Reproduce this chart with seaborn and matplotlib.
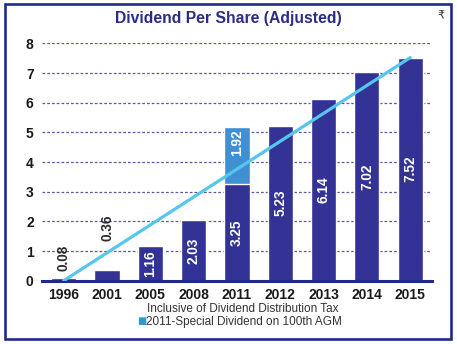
import matplotlib
matplotlib.use("Agg")
import matplotlib.pyplot as plt
import seaborn as sns
import pandas as pd
from matplotlib.patches import Rectangle

# ---- data ----
years = ["1996", "2001", "2005", "2008", "2011", "2012", "2013", "2014", "2015"]
dividend = [0.08, 0.36, 1.16, 2.03, 3.25, 5.23, 6.14, 7.02, 7.52]
special = [0, 0, 0, 0, 1.92, 0, 0, 0, 0]
trend_start = 0.0
trend_end = 7.52
y_ticks = [0, 1, 2, 3, 4, 5, 6, 7, 8]
title = "Dividend Per Share (Adjusted)"
note1 = "Inclusive of Dividend Distribution Tax"
note2 = "2011-Special Dividend on 100th AGM"

sns.set_style("white")
plt.rcParams["font.family"] = ["Liberation Sans", "DejaVu Sans"]

df = pd.DataFrame({"year": years, "dividend": dividend,
                   "total": [d + s for d, s in zip(dividend, special)]})

DARK = "#333395"
SPECIAL = "#3f8fd2"
LINE = "#56c6ef"
NAVY = "#1f2b85"

fig = plt.figure(figsize=(4.57, 3.44), dpi=100)
ax = fig.add_axes([0.092, 0.184, 0.853, 0.690])

sns.barplot(data=df, x="year", y="total", color=SPECIAL, width=0.58,
            saturation=1, ax=ax)
sns.barplot(data=df, x="year", y="dividend", color=DARK, width=0.58,
            saturation=1, ax=ax)

# trend line from first to last category
ax.plot([0, len(years) - 1], [trend_start, trend_end], color=LINE, lw=2.3,
        solid_capstyle="round", zorder=5)

LBL = 9.8
for i, (d, s) in enumerate(zip(dividend, special)):
    if d < 0.5:
        pad = 5 if d < 0.1 else 21
        ax.annotate(f"{d:.2f}", (i, d), xytext=(0, pad), textcoords="offset points",
                    rotation=90, ha="center", va="bottom", fontsize=LBL,
                    fontweight="bold", color="#2a2a2a", zorder=6)
    else:
        ax.text(i, d / 2, f"{d:.2f}", rotation=90, ha="center", va="center",
                fontsize=LBL, fontweight="bold", color="white", zorder=6)
    if s > 0:
        ax.annotate(f"{s:.2f}", (i, d + s), xytext=(0, -1.5), textcoords="offset points",
                    rotation=90, ha="center", va="top", fontsize=LBL,
                    fontweight="bold", color="white", zorder=6)

ax.set_ylim(0, 8)
ax.set_xlim(-0.42, 8.46)
ax.set_yticks(y_ticks)
ax.set_xlabel("")
ax.set_ylabel("")
ax.yaxis.grid(True, linestyle=(0, (2.2, 1.6)), color="#5a5a9c", lw=0.9)
ax.set_axisbelow(True)
for sp in ["top", "right", "left"]:
    ax.spines[sp].set_visible(False)
ax.spines["bottom"].set_color(NAVY)
ax.spines["bottom"].set_linewidth(2.2)
ax.tick_params(axis="y", length=0, pad=6, labelsize=10, labelcolor="#1a1a1a")
ax.tick_params(axis="x", which="major", length=0, pad=5, labelsize=10,
               labelcolor="#1a1a1a")
for t in ax.get_xticklabels() + ax.get_yticklabels():
    t.set_fontweight("bold")
ax.set_xticks([i - 0.5 for i in range(len(years) + 1)], minor=True)
ax.tick_params(axis="x", which="minor", length=3, width=1, color=NAVY, direction="out")

fig.text(0.499, 0.946, title, ha="center", va="center", fontsize=11.3,
         fontweight="bold", color="#2b2b88")
fig.text(0.965, 0.955, "\u20b9", ha="center", va="center", fontsize=8,
         color="#333333", family=["DejaVu Sans"])
fig.text(0.532, 0.102, note1, ha="center", va="center", fontsize=8.5, color="#333333")
fig.text(0.301, 0.066, "\u25a0", ha="left", va="center", fontsize=7,
         color="#2b9ccc", family=["DejaVu Sans"])
fig.text(0.320, 0.065, note2, ha="left", va="center", fontsize=8.5, color="#333333")

fig.patches.append(Rectangle((0.011, 0.015), 0.976, 0.973, transform=fig.transFigure,
                             fill=False, edgecolor=NAVY, lw=1.9))

fig.savefig("out.png", dpi=100)
